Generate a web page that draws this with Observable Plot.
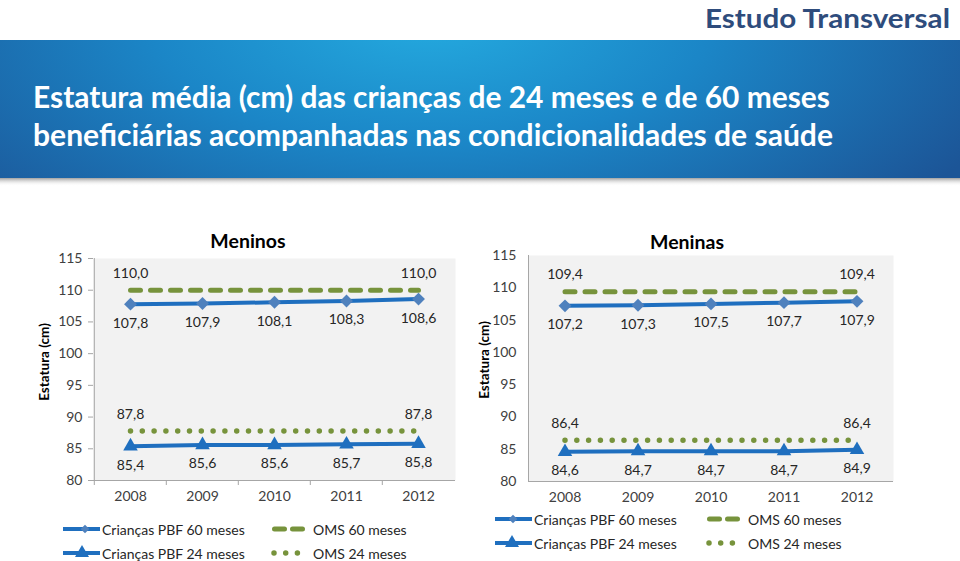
<!DOCTYPE html>
<html>
<head>
<meta charset="utf-8">
<script src="https://cdn.jsdelivr.net/npm/d3@7"></script>
<script src="https://cdn.jsdelivr.net/npm/@observablehq/plot@0.6"></script>
<style>
  html, body { margin: 0; padding: 0; background: #fff; }
  body { width: 960px; height: 561px; position: relative; overflow: hidden; font-family: Lato, "Open Sans", sans-serif; }
  .abs { position: absolute; }
  #overlay { position: absolute; left: 0; top: 0; pointer-events: none; }
</style>
</head>
<body>
<svg class="abs" style="left:0;top:0" width="960" height="200">
  <defs>
    <radialGradient id="bg" gradientUnits="userSpaceOnUse" cx="430" cy="20" r="620" gradientTransform="translate(430,20) scale(1,0.45) translate(-430,-20)">
      <stop offset="0" stop-color="#24aadf"/>
      <stop offset="0.45" stop-color="#1b86c7"/>
      <stop offset="1" stop-color="#1c5597"/>
    </radialGradient>
    <linearGradient id="sh" x1="0" y1="0" x2="0" y2="1">
      <stop offset="0" stop-color="#8a8a8a" stop-opacity="0.8"/>
      <stop offset="1" stop-color="#ffffff" stop-opacity="0"/>
    </linearGradient>
  </defs>
  <rect x="0" y="40" width="960" height="138" fill="url(#bg)"/>
  <rect x="0" y="178" width="960" height="8" fill="url(#sh)"/>
  <text x="950" y="28" text-anchor="end" font-family="Lato" font-weight="bold" font-size="27" fill="#2e4c7c" textLength="245" lengthAdjust="spacingAndGlyphs">Estudo Transversal</text>
  <text x="33" y="108" font-family="Lato" font-weight="bold" font-size="31" fill="#ffffff" textLength="797" lengthAdjust="spacingAndGlyphs">Estatura média (cm) das crianças de 24 meses e de 60 meses</text>
  <text x="33" y="146" font-family="Lato" font-weight="bold" font-size="31" fill="#ffffff" textLength="800" lengthAdjust="spacingAndGlyphs">beneficiárias acompanhadas nas condicionalidades de saúde</text>
</svg>
<div id="left" class="abs" style="left:0;top:225px"></div>
<div id="right" class="abs" style="left:470px;top:225px"></div>
<svg id="overlay" width="960" height="561"></svg>
<script>
const years = ["2008", "2009", "2010", "2011", "2012"];
const yTicks = [80, 85, 90, 95, 100, 105, 110, 115];

const boysPBF60 = [107.8, 107.9, 108.1, 108.3, 108.6];
const boysOMS60 = [110.0, 110.0, 110.0, 110.0, 110.0];
const boysPBF24 = [85.4, 85.6, 85.6, 85.7, 85.8];
const boysOMS24 = [87.8, 87.8, 87.8, 87.8, 87.8];

const girlsPBF60 = [107.2, 107.3, 107.5, 107.7, 107.9];
const girlsOMS60 = [109.4, 109.4, 109.4, 109.4, 109.4];
const girlsPBF24 = [84.6, 84.7, 84.7, 84.7, 84.9];
const girlsOMS24 = [86.4, 86.4, 86.4, 86.4, 86.4];

const titles = ["Meninos", "Meninas"];
const yLabel = "Estatura (cm)";
const legendNames = ["Crianças PBF 60 meses", "OMS 60 meses", "Crianças PBF 24 meses", "OMS 24 meses"];

const BLUE = "#1f6fbf", DIAMOND = "#4f81bd", GREEN = "#77933c", TXT = "#262626", AX = "#a6a6a6";
const fmt = v => v.toFixed(1).replace(".", ",");
const rows = arr => years.map((year, i) => ({year, v: arr[i], i}));

function chart(el, s, dims) {
  const {width, height, marginLeft, marginRight, marginTop, marginBottom, ticks, yPad} = dims;
  const bw = (width - marginLeft - marginRight) / years.length;
  const p60 = rows(s.pbf60), o60 = rows(s.oms60), p24 = rows(s.pbf24), o24 = rows(s.oms24);
  const ends = d => d.i === 0 || d.i === years.length - 1;
  const marks = [
    Plot.frame({fill: "#f2f2f2", stroke: "none"}),
    Plot.ruleY([80], {stroke: AX}),
    Plot.ruleX([years[0]], {stroke: AX, dx: -bw / 2}),
    Plot.axisY({ticks: yTicks, tickSize: ticks ? 5 : 0, tickPadding: yPad, stroke: AX, fill: "#404040", fontSize: 14, label: null}),
    Plot.axisX({tickSize: 0, tickPadding: 11, fill: "#404040", fontSize: 14, label: null})
  ];
  if (ticks) marks.push(Plot.axisX({tickSize: 5, tickFormat: () => "", stroke: AX, dx: -bw / 2, label: null}));
  marks.push(
    Plot.lineY(o60, {x: "year", y: "v", stroke: GREEN, strokeWidth: 5, strokeDasharray: "10,10", strokeLinecap: "round"}),
    Plot.lineY(o24, {x: "year", y: "v", stroke: GREEN, strokeWidth: 5.5, strokeDasharray: "0,11.8", strokeLinecap: "round"}),
    Plot.lineY(p60, {x: "year", y: "v", stroke: BLUE, strokeWidth: 4}),
    Plot.dot(p60, {x: "year", y: "v", symbol: "diamond2", r: 5.8, fill: DIAMOND, stroke: "none"}),
    Plot.lineY(p24, {x: "year", y: "v", stroke: BLUE, strokeWidth: 4}),
    Plot.dot(p24, {x: "year", y: "v", symbol: "triangle", r: 5.4, fill: BLUE, stroke: "none"}),
    Plot.text(p60, {x: "year", y: "v", text: d => fmt(d.v), dy: 19, fill: TXT, fontSize: 14}),
    Plot.text(p24, {x: "year", y: "v", text: d => fmt(d.v), dy: 19, fill: TXT, fontSize: 14}),
    Plot.text(o60.filter(ends), {x: "year", y: "v", text: d => fmt(d.v), dy: -17, fill: TXT, fontSize: 14}),
    Plot.text(o24.filter(ends), {x: "year", y: "v", text: d => fmt(d.v), dy: -17, fill: TXT, fontSize: 14})
  );
  const plot = Plot.plot({
    width, height, marginLeft, marginRight, marginTop, marginBottom,
    style: {fontFamily: "Lato, 'Open Sans', sans-serif", background: "transparent"},
    x: {type: "band", domain: years, padding: 0, axis: null},
    y: {domain: [80, 115], axis: null},
    marks
  });
  document.getElementById(el).appendChild(plot);
}

chart("left", {pbf60: boysPBF60, oms60: boysOMS60, pbf24: boysPBF24, oms24: boysOMS24},
  {width: 470, height: 290, marginLeft: 93, marginRight: 15, marginTop: 33, marginBottom: 35, ticks: true, yPad: 6});
chart("right", {pbf60: girlsPBF60, oms60: girlsOMS60, pbf24: girlsPBF24, oms24: girlsOMS24},
  {width: 490, height: 290, marginLeft: 58, marginRight: 67, marginTop: 30, marginBottom: 34, ticks: false, yPad: 12});

// overlay: titles, y labels, legends
const svg = d3.select("#overlay");
const tt = [{t: titles[0], x: 248, y: 240}, {t: titles[1], x: 687, y: 241}];
tt.forEach(d => svg.append("text").attr("x", d.x).attr("y", d.y).attr("text-anchor", "middle")
  .attr("dominant-baseline", "central").attr("font-family", "Lato").attr("font-weight", "bold")
  .attr("font-size", 19.5).attr("fill", "#000").text(d.t));
[{x: 44, y: 362}, {x: 484, y: 360}].forEach(d => svg.append("text")
  .attr("transform", `translate(${d.x},${d.y}) rotate(-90)`).attr("text-anchor", "middle")
  .attr("dominant-baseline", "central").attr("font-family", "Lato").attr("font-weight", "bold")
  .attr("font-size", 13.5).attr("fill", "#000").text(yLabel));

function legend(o) {
  const g = svg.append("g");
  g.append("line").attr("x1", o.sx0).attr("x2", o.sx1).attr("y1", o.r1).attr("y2", o.r1).attr("stroke", BLUE).attr("stroke-width", 4);
  g.append("path").attr("d", d3.symbol(d3.symbolDiamond2, 48)()).attr("transform", `translate(${o.dx},${o.r1})`).attr("fill", DIAMOND);
  g.append("line").attr("x1", o.sx0).attr("x2", o.sx1).attr("y1", o.r2).attr("y2", o.r2).attr("stroke", BLUE).attr("stroke-width", 4);
  g.append("path").attr("d", d3.symbol(d3.symbolTriangle, 85)()).attr("transform", `translate(${o.tx},${o.r2})`).attr("fill", BLUE);
  g.append("line").attr("x1", o.ox0 + 2.5).attr("x2", o.ox0 + 33).attr("y1", o.r1).attr("y2", o.r1).attr("stroke", GREEN)
    .attr("stroke-width", 5).attr("stroke-linecap", "round").attr("stroke-dasharray", "10,8");
  g.append("line").attr("x1", o.ox0 + 2).attr("x2", o.ox0 + 37).attr("y1", o.r2).attr("y2", o.r2).attr("stroke", GREEN)
    .attr("stroke-width", 5.5).attr("stroke-linecap", "round").attr("stroke-dasharray", "0,11.7");
  const txt = (x, y, t) => g.append("text").attr("x", x).attr("y", y).attr("dominant-baseline", "central")
    .attr("font-family", "Lato").attr("font-size", 14).attr("fill", TXT).text(t);
  txt(o.sx1 + 2, o.r1, legendNames[0]);
  txt(o.ox0 + 41, o.r1, legendNames[1]);
  txt(o.sx1 + 2, o.r2, legendNames[2]);
  txt(o.ox0 + 41, o.r2, legendNames[3]);
}
legend({sx0: 63, sx1: 100, dx: 85, tx: 82, ox0: 272, r1: 529, r2: 553});
legend({sx0: 495, sx1: 532, dx: 513, tx: 512, ox0: 707, r1: 519, r2: 543});
</script>
</body>
</html>
